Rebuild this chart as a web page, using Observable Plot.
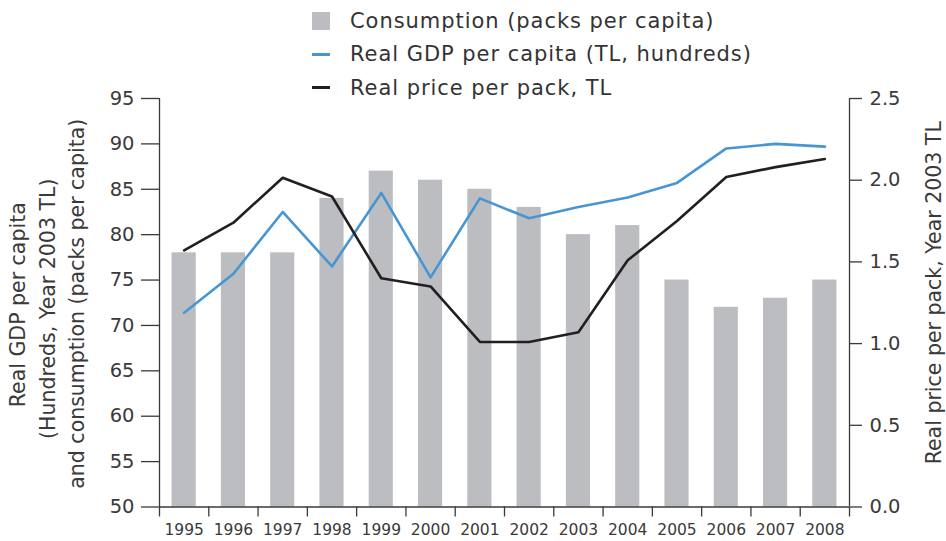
<!DOCTYPE html>
<html><head><meta charset="utf-8">
<script src="https://cdn.jsdelivr.net/npm/d3@7"></script>
<script src="https://cdn.jsdelivr.net/npm/@observablehq/plot@0.6"></script>
<style>
body{margin:0;background:#fff;font-family:"DejaVu Sans",sans-serif;color:#333}
#wrap{position:relative;width:946px;height:541px}
#legend{position:absolute;left:312px;top:4px;font-size:21px;letter-spacing:0.95px;color:#333}
.item{display:flex;align-items:center;height:33.5px}
.sw{width:18px;margin-right:20px;flex:none}
g[aria-label="xlabels"] text{letter-spacing:0.3px}
</style></head><body>
<div id="wrap"><div id="chart"></div><div id="legend"></div></div>
<script>
const years = [1995,1996,1997,1998,1999,2000,2001,2002,2003,2004,2005,2006,2007,2008];
const consumption = [78,78,78,84,87,86,85,83,80,81,75,72,73,75];
const gdp = [71.4,75.7,82.5,76.5,84.6,75.3,84.0,81.8,83.05,84.1,85.7,89.5,90.0,89.7];
const price = [1.57,1.74,2.015,1.90,1.40,1.35,1.01,1.01,1.07,1.51,1.75,2.02,2.08,2.13];
const leftTicks = [50,55,60,65,70,75,80,85,90,95];
const rightTicks = [0,0.5,1.0,1.5,2.0,2.5];
const seriesNames = ["Consumption (packs per capita)","Real GDP per capita (TL, hundreds)","Real price per pack, TL"];
const leftTitle = ["Real GDP per capita","(Hundreds, Year 2003 TL)","and consumption (packs per capita)"];
const rightTitle = "Real price per pack, Year 2003 TL";

const colBar = "#bcbdc1", colGdp = "#4796d3", colPrice = "#231f20", colAxis = "#3a3a3a", colText = "#3a3a3a";
const toLeft = p => 50 + p * 18;

const rows = years.map((y,i)=>({year:y, cons:consumption[i], gdp:gdp[i], price:price[i]}));
const bounds = [...years.map(y=>y-0.5), years[years.length-1]+0.5];

// title placement (pixel offsets from the frame's left/right middle) and target lengths
const lPos = [{dx:-141, dy:2, len:236}, {dx:-111, dy:6, len:268}, {dx:-82, dy:1, len:417}];
const rPos = {dx:85, dy:-10, len:362};

const chart = Plot.plot({
  width:946, height:541,
  marginTop:98, marginBottom:34.5, marginLeft:159, marginRight:97,
  style:{fontFamily:'"DejaVu Sans",sans-serif', color:colText, background:"transparent", overflow:"visible"},
  x:{type:"linear", domain:[1994.5,2008.5]},
  y:{domain:[50,95]},
  marks:[
    Plot.rectY(rows,{x1:d=>d.year-0.245, x2:d=>d.year+0.245, y1:50, y2:"cons", fill:colBar}),
    Plot.line(rows,{x:"year", y:"gdp", stroke:colGdp, strokeWidth:2.6}),
    Plot.line(rows,{x:"year", y:d=>toLeft(d.price), stroke:colPrice, strokeWidth:2.6}),
    Plot.ruleX([1994.5, 2008.5],{y1:50, y2:95, stroke:colAxis, strokeWidth:1.3}),
    Plot.ruleY([50],{stroke:colAxis, strokeWidth:1.3}),
    Plot.axisY({ticks:leftTicks, tickSize:18, tickPadding:7, fontSize:19.5, label:null, stroke:colAxis, strokeWidth:1.3, fill:colText}),
    Plot.axisY({anchor:"right", ticks:rightTicks.map(toLeft), tickFormat:v=>((v-50)/18).toFixed(1), tickSize:12, tickPadding:8, fontSize:19.5, label:null, stroke:colAxis, strokeWidth:1.3, fill:colText}),
    Plot.axisX({ticks:bounds, tickFormat:()=> "", tickSize:10, label:null, stroke:colAxis, strokeWidth:1.3}),
    Plot.axisX({ticks:years, tickFormat:d=>String(d), tickSize:0, tickPadding:17, fontSize:15.5, label:null, fill:colText, ariaLabel:"xlabels"}),
    ...leftTitle.map((t,i)=>Plot.text([t],{frameAnchor:"left", rotate:-90, dx:lPos[i].dx, dy:lPos[i].dy, fontSize:20.5, fill:colText, textAnchor:"middle", ariaLabel:"ltitle"+i})),
    Plot.text([rightTitle],{frameAnchor:"right", rotate:-90, dx:rPos.dx, dy:rPos.dy, fontSize:20.5, fill:colText, textAnchor:"middle", ariaLabel:"rtitle"})
  ]
});
document.getElementById("chart").appendChild(chart);

// stretch title lines to the reference's measured lengths (the original uses a wider geometric face)
function fit(el, target){
  if (!el) return;
  el.setAttribute("textLength", target);
  el.setAttribute("lengthAdjust", "spacing");
}
leftTitle.forEach((t,i)=>fit(chart.querySelector(`g[aria-label="ltitle${i}"] text`), lPos[i].len));
fit(chart.querySelector('g[aria-label="rtitle"] text'), rPos.len);

const legend = document.getElementById("legend");
const swatches = [
  `<div class="sw" style="height:18px;background:${colBar}"></div>`,
  `<div class="sw" style="height:3px;background:${colGdp}"></div>`,
  `<div class="sw" style="height:3px;background:${colPrice}"></div>`
];
seriesNames.forEach((n,i)=>{
  const d = document.createElement("div");
  d.className = "item";
  d.innerHTML = swatches[i] + `<span>${n}</span>`;
  legend.appendChild(d);
});
</script>
</body></html>
